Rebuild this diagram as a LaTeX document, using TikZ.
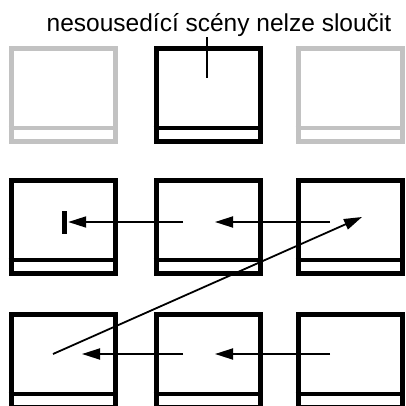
\documentclass[tikz,border=0pt]{standalone}
\usepackage{fontspec}
\setmainfont{Liberation Sans}
\usepackage{tikz}
\usetikzlibrary{arrows.meta,positioning,calc}
\definecolor{paleframe}{HTML}{C2C2C2}

\tikzset{
  scene/.style={draw, line width=5pt, minimum width=104pt, minimum height=93pt, inner sep=0pt},
  flow/.style={line width=1.8pt, -{Triangle[length=18pt,width=11pt]}},
}

\begin{document}
\begin{tikzpicture}[x=1pt,y=-1pt]
  \useasboundingbox (0,0) rectangle (406,406);
  % Caption
  \node[inner sep=0pt, anchor=base, font=\fontsize{24.5}{28}\selectfont] (caption) at (219,32) {nesousedící scény nelze sloučit};
  % Top row of scenes
  \foreach \c/\x/\col in {1/63/paleframe,2/208/black,3/350/paleframe}{
    \node[scene, draw=\col] (s1\c) at (\x,95) {};
    \draw[\col, line width=4pt] ($(s1\c.south west)+(0,-16)$) -- ($(s1\c.south east)+(0,-16)$);
  }
  % Lower rows of scenes
  \foreach \r/\y in {2/227,3/361}{
    \foreach \c/\x in {1/63,2/208,3/350}{
      \node[scene] (s\r\c) at (\x,\y) {};
      \draw[line width=4pt] ($(s\r\c.south west)+(0,-16)$) -- ($(s\r\c.south east)+(0,-16)$);
    }
  }
  % Pointer from caption
  \coordinate (pin) at ($(s12)+(-1,-17)$);
  \draw[line width=1.8pt] (caption.south -| pin) -- (pin);
  % Stop mark
  \node[fill, minimum width=5pt, minimum height=23pt, inner sep=0pt] (stop) at ($(s21)+(1,-5)$) {};
  % Flow points
  \coordinate (m3) at ($(s23)+(-20,-5)$);
  \coordinate (m2in) at ($(s22)+(7,-5)$);
  \coordinate (m2) at ($(s22)+(-25,-5)$);
  \coordinate (b3) at ($(s33)+(-20,-7)$);
  \coordinate (b2in) at ($(s32)+(7,-7)$);
  \coordinate (b2) at ($(s32)+(-25,-7)$);
  \coordinate (b1in) at ($(s31)+(19,-7)$);
  \coordinate (b1) at ($(s31)+(-10,-7)$);
  \coordinate (jump) at ($(s23)+(12,-10)$);
  % Flow arrows
  \draw[flow] (m3) -- (m2in);
  \draw[flow, shorten >=1.5pt] (m2) -- (stop.east);
  \draw[flow] (b3) -- (b2in);
  \draw[flow] (b2) -- (b1in);
  \draw[flow] (b1) -- (jump);
\end{tikzpicture}
\end{document}
